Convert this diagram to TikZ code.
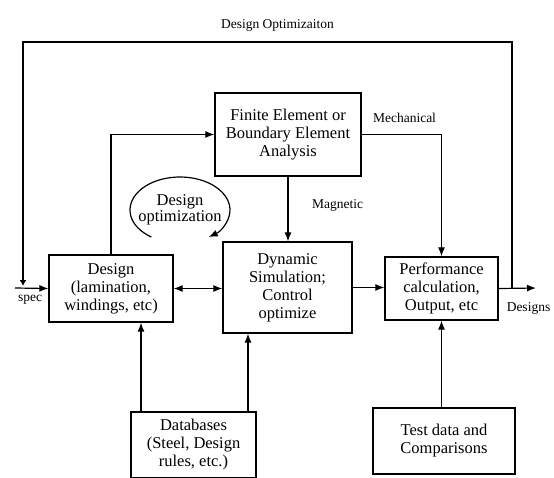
\documentclass[tikz,border=0pt]{standalone}
\usepackage{fontspec}
\setmainfont{Liberation Serif}
\usetikzlibrary{arrows.meta,positioning}

\begin{document}
\begin{tikzpicture}[
    x=1pt, y=-1pt,
    auto,
    block/.style={rectangle, draw, line width=1.3pt, align=center, inner sep=0pt, font=\fontsize{16.5}{18}\selectfont},
    lbl/.style={inner sep=0pt, font=\fontsize{13.5}{15}\selectfont},
    line/.style={draw, -{Latex[length=9pt, width=7pt]}, line width=1.2pt}
]
    \useasboundingbox (0,0) rectangle (554,477);

    % Analysis and design blocks
    \node [block, minimum width=146pt, minimum height=83pt] (fea) at (288,134.5) {Finite Element or\\Boundary Element\\Analysis};
    \node [block, minimum width=124pt, minimum height=67pt] (design) at (111,288.5) {Design\\(lamination,\\windings, etc)};
    \node [block, minimum width=129pt, minimum height=91pt] (dyn) at (287.5,287.5) {Dynamic\\Simulation;\\Control\\optimize};
    \node [block, minimum width=113pt, minimum height=63pt] (perf) at (441.5,288.5) {Performance\\calculation,\\Output, etc};

    % Data sources
    \node [block, minimum width=125pt, minimum height=66pt] (db) at (193.5,445) {Databases\\(Steel, Design\\rules, etc.)};
    \node [block, minimum width=142pt, minimum height=66pt] (test) at (444,441) {Test data and\\Comparisons};

    % Free ends of the loop
    \coordinate (spec) at (15,288);
    \coordinate (out) at (536,288);
    \coordinate (tap) at (512,288);
    \coordinate (ltop) at (23,42);
    \coordinate (lend) at (23,286);

    % Labels
    \node [lbl] (optlbl) at (277.5,25) {Design Optimizaiton};
    \node [lbl] (mechlbl) at (404.5,118) {Mechanical};
    \node [lbl] (maglbl) at (337.5,205) {Magnetic};
    \node [lbl] (speclbl) at (30,300) {spec};
    \node [lbl] (outlbl) at (528.5,308) {Designs};
    \node [inner sep=0pt, align=center, font=\fontsize{16.5}{16}\selectfont] (dopt) at (180,210) {Design\\optimization};

    % Paths
    \path [line] (spec) -- (design.west);
    \path [line, {Latex[length=9pt, width=7pt]}-{Latex[length=9pt, width=7pt]}] (design.east) -- (design.east -| dyn.west);
    \path [line] (dyn.east) -- (dyn.east -| perf.west);
    \path [line] (perf.east) -- (out);
    \path [line, -{Latex[length=6pt, width=7pt]}] (tap) |- (ltop) -- (lend);
    \path [line] (design.north) |- (fea.west);
    \path [line] (fea.east) -| (perf.north);
    \path [line] (fea.south) -- (fea.south |- dyn.north);
    \path [line] ([xshift=-52.5pt]db.north) -- ([xshift=-52.5pt]db.north |- design.south);
    \path [line] ([xshift=54.5pt]db.north) -- ([xshift=54.5pt]db.north |- dyn.south);
    \path [line] (test.north -| perf.south) -- (perf.south);
    \draw [line] ([shift={(125:50 and 33)}]dopt.center) arc [start angle=125, end angle=415, x radius=50, y radius=33];

\end{tikzpicture}
\end{document}
